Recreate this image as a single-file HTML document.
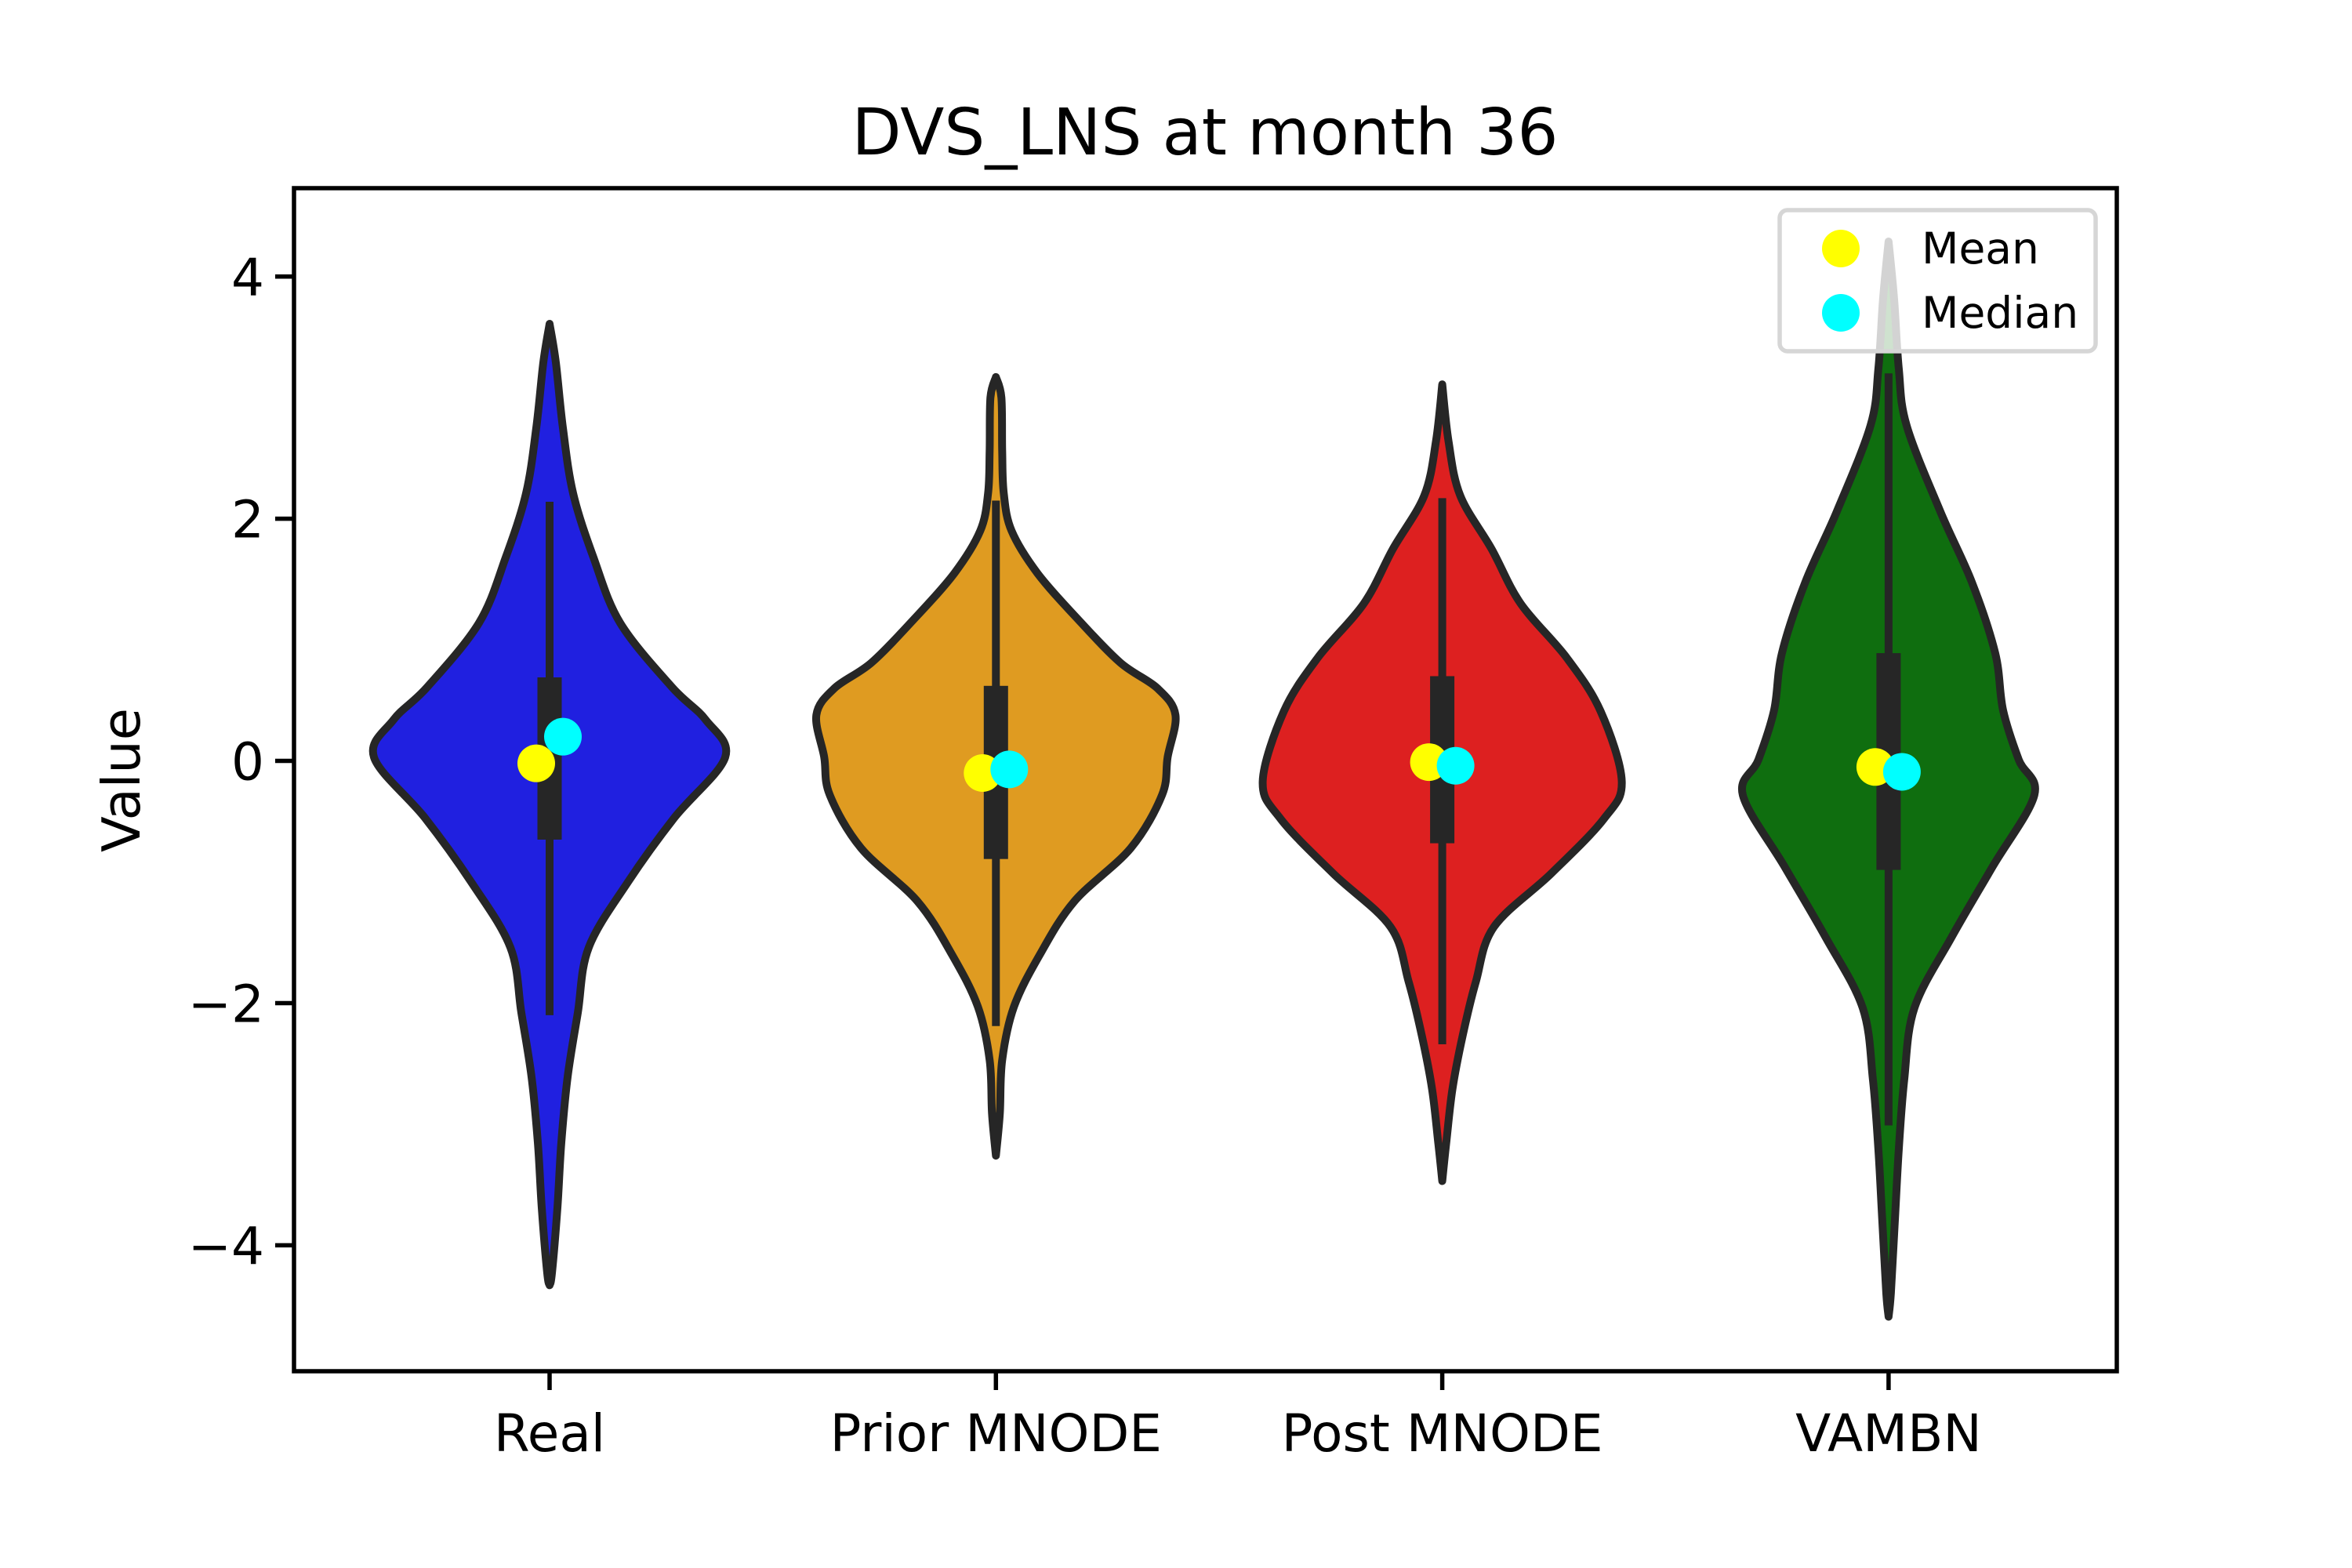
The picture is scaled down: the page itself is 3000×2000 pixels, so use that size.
<!DOCTYPE html>
<html><head><meta charset="utf-8"><style>
html,body{margin:0;padding:0;background:#fff}
svg{display:block}
text{font-family:"DejaVu Sans","Liberation Sans",sans-serif}
</style></head><body>
<svg id="chart" width="3000" height="2000" viewBox="0 0 3000 2000">
<rect width="3000" height="2000" fill="#fff"/>
<text x="1537" y="197" font-size="82" text-anchor="middle">DVS_LNS at month 36</text>
<g id="plot"></g>
<text transform="translate(178,995) rotate(-90)" font-size="67" text-anchor="middle">Value</text>
</svg>
<script>
const categories = ["Real", "Prior MNODE", "Post MNODE", "VAMBN"];
const colors = ["#2020e0", "#df9b21", "#dd2020", "#0f6e0f"];
const yTicks = [-4, -2, 0, 2, 4];
const realProfile = [[3.61,0],[3.29,8],[2.75,17],[2.21,30],[1.68,56],[1.14,90],[0.61,156],[0.34,199],[0.03,224],[-0.47,159],[-1.0,100],[-1.54,50],[-2.08,36],[-2.61,23],[-3.15,15],[-3.69,10],[-4.23,3],[-4.33,0]];
const priorProfile = [[3.17,0],[3.0,7],[2.56,8],[2.21,10],[1.9,20],[1.55,53],[1.16,106],[0.81,159],[0.6,206],[0.38,229],[0.03,219],[-0.28,212],[-0.72,172],[-1.16,100],[-1.6,56],[-2.03,23],[-2.47,8],[-2.91,5],[-3.26,0]];
const postProfile = [[3.11,0],[2.64,8],[2.19,23],[1.75,63],[1.3,100],[0.85,159],[0.41,202],[-0.17,229],[-0.48,206],[-0.93,139],[-1.37,66],[-1.82,43],[-2.27,26],[-2.71,13],[-3.16,5],[-3.47,0]];
const vambnProfile = [[4.29,0],[3.82,7],[3.24,13],[2.77,23],[2.06,66],[1.48,106],[0.89,136],[0.42,146],[0.01,166],[-0.28,186],[-0.87,133],[-1.46,80],[-2.04,33],[-2.63,20],[-3.21,13],[-3.8,8],[-4.39,3],[-4.59,0]];
const profiles = [realProfile, priorProfile, postProfile, vambnProfile];
const q1 = [-0.65, -0.81, -0.68, -0.9];
const q3 = [0.69, 0.62, 0.7, 0.89];
const whiskLo = [-2.1, -2.19, -2.34, -3.01];
const whiskHi = [2.14, 2.15, 2.17, 3.2];
const means = [-0.02, -0.1, -0.01, -0.05];
const medians = [0.2, -0.07, -0.04, -0.09];

const NS = "http://www.w3.org/2000/svg";
const L = 375, R = 2700, T = 240, B = 1749;
const yMin = -5.04, yMax = 4.73;
function yScale(v){ return B - (v - yMin) / (yMax - yMin) * (B - T); }
function xScale(i){ return 701 + i * 569.3; }
const plot = document.getElementById('plot');
function mk(tag, attrs, parent){
  const e = document.createElementNS(NS, tag);
  for (const k in attrs) e.setAttribute(k, attrs[k]);
  (parent || plot).appendChild(e);
  return e;
}
function smooth(pts){
  let d = "M" + pts[0][0] + "," + pts[0][1];
  for (let i = 0; i < pts.length - 1; i++){
    const p0 = pts[Math.max(0,i-1)], p1 = pts[i], p2 = pts[i+1], p3 = pts[Math.min(pts.length-1,i+2)];
    const c1x = p1[0] + (p2[0]-p0[0])/6, c1y = p1[1] + (p2[1]-p0[1])/6;
    const c2x = p2[0] - (p3[0]-p1[0])/6, c2y = p2[1] - (p3[1]-p1[1])/6;
    d += " C" + c1x.toFixed(1) + "," + c1y.toFixed(1) + " " + c2x.toFixed(1) + "," + c2y.toFixed(1) + " " + p2[0].toFixed(1) + "," + p2[1].toFixed(1);
  }
  return d;
}
const frame = mk('rect', {x:L, y:T, width:R-L, height:B-T, fill:'none', stroke:'#000', 'stroke-width':5.5});


yTicks.forEach(v => {
  const y = yScale(v);
  const t = mk('line', {x1:L-24, x2:L, y1:y, y2:y, stroke:'#000', 'stroke-width':5.5});
  
  
  const lb = mk('text', {x:L-38, y:y+24, 'font-size':66, 'text-anchor':'end'});
  
  
  lb.textContent = v < 0 ? "\u2212" + Math.abs(v) : String(v);
});
categories.forEach((c, i) => {
  const cx = xScale(i);
  const t = mk('line', {x1:cx, x2:cx, y1:B, y2:B+24, stroke:'#000', 'stroke-width':5.5});
  
  
  const lb = mk('text', {x:cx, y:1851, 'font-size':66, 'text-anchor':'middle'});
  
  
  lb.textContent = c;
  const prof = profiles[i];
  const right = prof.map(p => [cx + p[1], yScale(p[0])]);
  const left = prof.slice().reverse().map(p => [cx - p[1], yScale(p[0])]);
  const d = smooth(right) + " " + smooth(left).replace(/^M/, "L") + " Z";
  const v = mk('path', {d:d, fill:colors[i], stroke:'#262626', 'stroke-width':10, 'stroke-linejoin':'round'});
  
  
  const w = mk('line', {x1:cx, x2:cx, y1:yScale(whiskHi[i]), y2:yScale(whiskLo[i]), stroke:'#262626', 'stroke-width':10});
  
  
  const bx = mk('rect', {x:cx-15.5, y:yScale(q3[i]), width:31, height:yScale(q1[i])-yScale(q3[i]), fill:'#262626'});
  
  
  const mn = mk('circle', {cx:cx-17, cy:yScale(means[i]), r:24, fill:'#ffff00'});
  
  
  const md = mk('circle', {cx:cx+17, cy:yScale(medians[i]), r:24, fill:'#00ffff'});
  
  
});
const lg = mk('g', {});


const lbox = mk('rect', {x:2270, y:268, width:403, height:180, rx:10, fill:'#fff', 'fill-opacity':0.8, stroke:'#d6d6d6', 'stroke-width':5.5}, lg);


[["Mean","#ffff00",317],["Median","#00ffff",399]].forEach(e => {
  const c = mk('circle', {cx:2348, cy:e[2], r:24, fill:e[1]}, lg);
  
  
  const t = mk('text', {x:2451, y:e[2]+19, 'font-size':55}, lg);
  
  
  t.textContent = e[0];
});
</script>
</body></html>
